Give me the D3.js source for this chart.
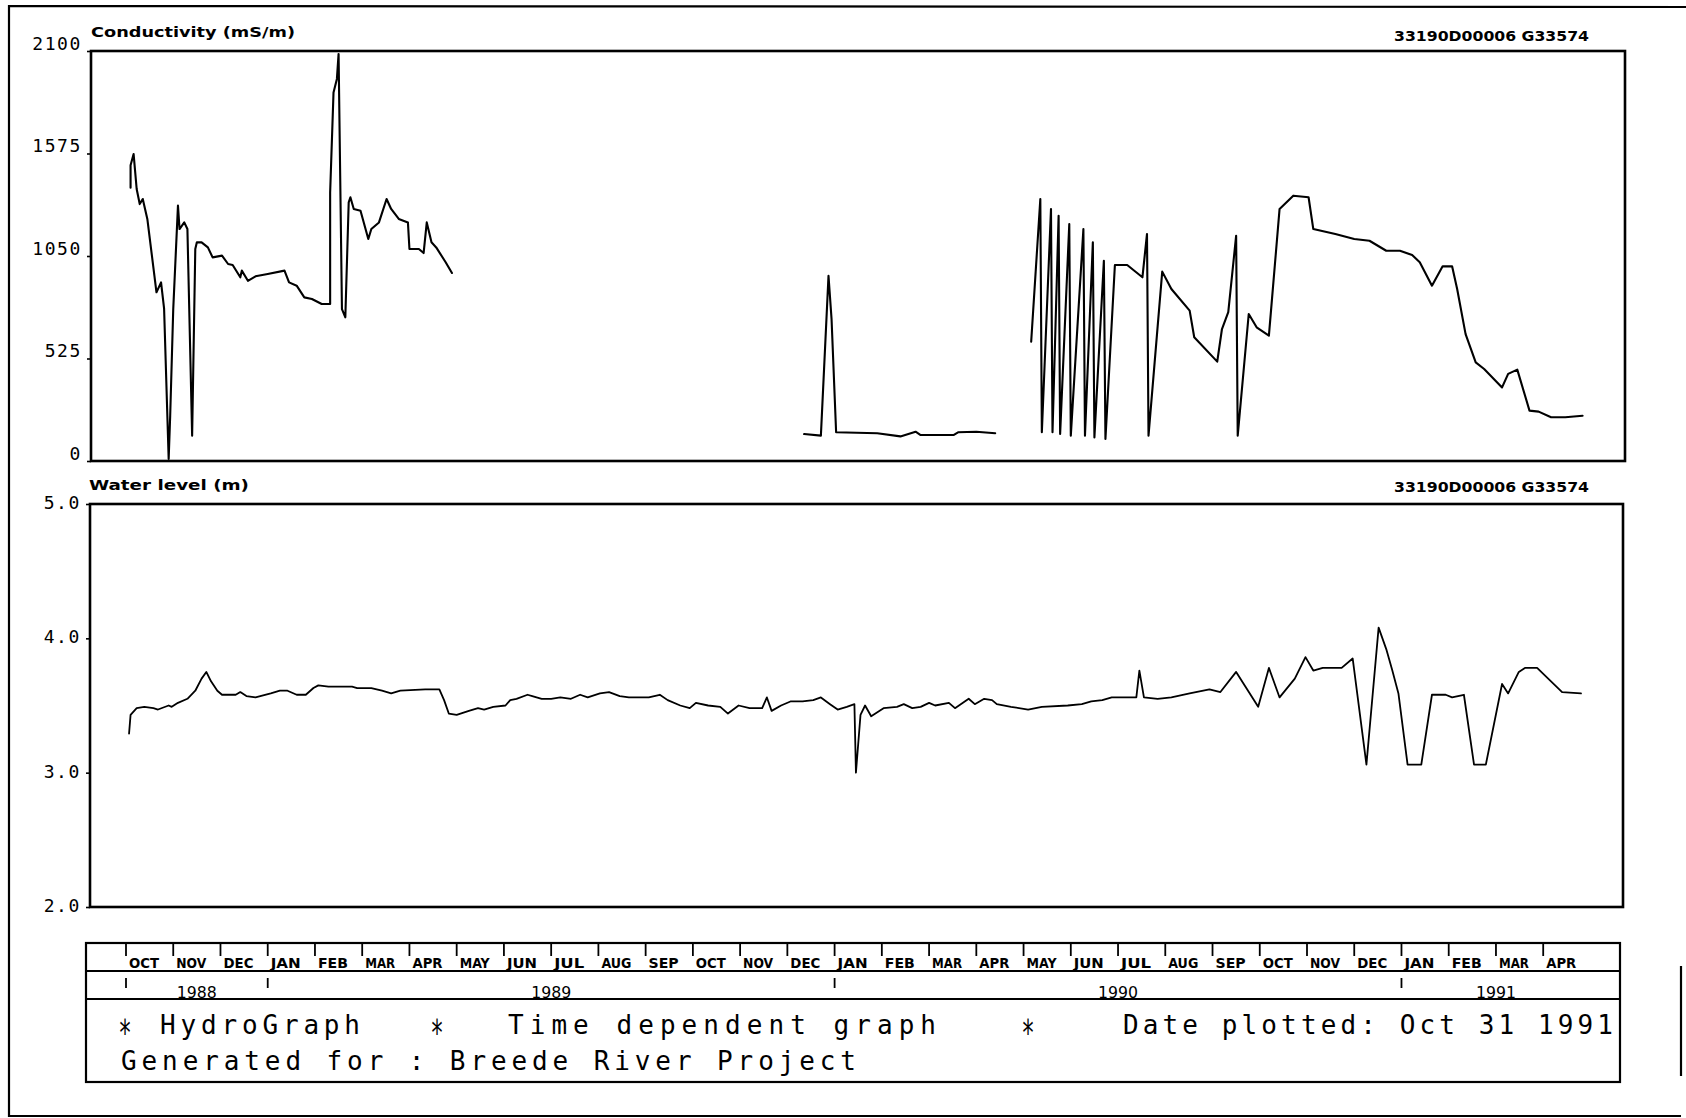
<!DOCTYPE html>
<html>
<head>
<meta charset="utf-8">
<title>HydroGraph</title>
<script src="https://cdn.jsdelivr.net/npm/d3@7/dist/d3.min.js"></script>
<style>
  html, body { margin: 0; padding: 0; background: #ffffff; }
  svg { display: block; }
</style>
</head>
<body>
<svg id="chart" width="1686" height="1118" xmlns="http://www.w3.org/2000/svg"></svg>
<script>
// ------------------------------------------------------------------ data
const stationId = "33190D00006 G33574";
const condTitle = "Conductivity (mS/m)";
const levelTitle = "Water level (m)";
const condTicks = [0, 525, 1050, 1575, 2100];
const levelTicks = [2.0, 3.0, 4.0, 5.0];
const monthLabels = ["OCT","NOV","DEC","JAN","FEB","MAR","APR","MAY","JUN","JUL","AUG","SEP",
                     "OCT","NOV","DEC","JAN","FEB","MAR","APR","MAY","JUN","JUL","AUG","SEP",
                     "OCT","NOV","DEC","JAN","FEB","MAR","APR"];
const firstMonth = "1988-10-01";
const yearTicks = ["1988-10-01", "1989-01-01", "1990-01-01", "1991-01-01"];
const yearLabels = ["1988", "1989", "1990", "1991"];
const yearLabelDates = ["1988-11-16", "1989-07-01", "1990-07-01", "1991-03-01"];
const footerItems = ["HydroGraph", "Time dependent graph", "Date plotted: Oct 31 1991"];
const footerLine2 = "Generated for : Breede River Project";

// conductivity (mS/m); null marks a gap in the record
const conductivity = [
  ["1988-10-04",1400],["1988-10-04",1515],["1988-10-06",1572],["1988-10-08",1393],["1988-10-10",1316],
  ["1988-10-12",1342],["1988-10-15",1240],["1988-10-18",1052],["1988-10-21",864],["1988-10-24",915],
  ["1988-10-26",780],["1988-10-29",10],["1988-10-30",232],["1988-11-01",778],["1988-11-04",1308],
  ["1988-11-05",1188],["1988-11-08",1222],["1988-11-10",1188],["1988-11-13",130],["1988-11-15",1086],
  ["1988-11-16",1120],["1988-11-19",1120],["1988-11-23",1094],["1988-11-26",1043],["1988-12-02",1052],
  ["1988-12-06",1009],["1988-12-09",1004],["1988-12-14",941],["1988-12-15",975],["1988-12-19",923],
  ["1988-12-24",946],["1989-01-01",958],["1989-01-12",975],["1989-01-15",915],["1989-01-20",898],
  ["1989-01-25",838],["1989-01-30",830],["1989-02-05",804],["1989-02-10",804],["1989-02-10",1376],
  ["1989-02-12",1888],["1989-02-14",1957],["1989-02-15",2085],["1989-02-17",778],["1989-02-19",736],
  ["1989-02-21",1325],["1989-02-22",1351],["1989-02-24",1291],["1989-02-28",1282],["1989-03-05",1137],
  ["1989-03-07",1188],["1989-03-12",1222],["1989-03-17",1342],["1989-03-20",1291],["1989-03-25",1240],
  ["1989-03-31",1222],["1989-04-01",1086],["1989-04-07",1086],["1989-04-10",1065],["1989-04-12",1222],
  ["1989-04-15",1120],["1989-04-18",1094],["1989-04-24",1018],["1989-04-28",963],
  ["1989-08-01",null],
  ["1989-12-12",138],["1989-12-23",130],["1989-12-28",949],["1989-12-30",727],["1990-01-02",147],
  ["1990-01-29",142],["1990-02-12",126],["1990-02-21",150],["1990-02-24",133],["1990-03-17",133],
  ["1990-03-20",147],["1990-04-01",150],["1990-04-13",142],
  ["1990-04-25",null],
  ["1990-05-06",611],["1990-05-12",1342],["1990-05-13",147],["1990-05-19",1291],["1990-05-20",147],
  ["1990-05-24",1256],["1990-05-25",138],["1990-05-31",1214],["1990-06-01",130],["1990-06-09",1188],
  ["1990-06-10",130],["1990-06-15",1120],["1990-06-16",121],["1990-06-22",1026],["1990-06-23",113],
  ["1990-06-29",1004],["1990-07-07",1004],["1990-07-17",941],["1990-07-20",1163],["1990-07-21",130],
  ["1990-07-30",970],["1990-08-05",881],["1990-08-17",770],["1990-08-20",634],["1990-09-04",509],
  ["1990-09-07",676],["1990-09-11",762],["1990-09-16",1154],["1990-09-17",130],["1990-09-24",753],
  ["1990-09-29",685],["1990-10-07",642],["1990-10-14",1291],["1990-10-23",1359],["1990-11-02",1351],
  ["1990-11-05",1188],["1990-11-19",1163],["1990-12-01",1137],["1990-12-11",1128],["1990-12-22",1077],
  ["1990-12-31",1077],["1991-01-08",1055],["1991-01-13",1018],["1991-01-21",898],["1991-01-28",997],
  ["1991-02-03",997],["1991-02-06",881],["1991-02-11",650],["1991-02-17",505],["1991-02-22",471],
  ["1991-03-05",377],["1991-03-09",446],["1991-03-15",468],["1991-03-23",258],["1991-03-29",253],
  ["1991-04-06",224],["1991-04-15",224],["1991-04-26",232]
];

// water level (m)
const waterLevel = [
  ["1988-10-03",3.29],["1988-10-04",3.43],["1988-10-08",3.48],["1988-10-13",3.49],["1988-10-19",3.48],
  ["1988-10-22",3.47],["1988-10-29",3.50],["1988-10-31",3.49],["1988-11-04",3.52],["1988-11-10",3.55],
  ["1988-11-15",3.61],["1988-11-19",3.70],["1988-11-22",3.75],["1988-11-25",3.68],["1988-11-29",3.61],
  ["1988-12-02",3.58],["1988-12-11",3.58],["1988-12-14",3.60],["1988-12-18",3.57],["1988-12-24",3.56],
  ["1989-01-03",3.59],["1989-01-09",3.61],["1989-01-14",3.61],["1989-01-20",3.58],["1989-01-26",3.58],
  ["1989-01-31",3.63],["1989-02-03",3.65],["1989-02-09",3.64],["1989-02-15",3.64],["1989-02-23",3.64],
  ["1989-02-26",3.63],["1989-03-07",3.63],["1989-03-14",3.61],["1989-03-20",3.59],["1989-03-26",3.61],
  ["1989-04-11",3.62],["1989-04-20",3.62],["1989-04-23",3.54],["1989-04-26",3.44],["1989-05-01",3.43],
  ["1989-05-09",3.46],["1989-05-15",3.48],["1989-05-19",3.47],["1989-05-25",3.49],["1989-06-02",3.50],
  ["1989-06-05",3.54],["1989-06-09",3.55],["1989-06-16",3.58],["1989-06-19",3.57],["1989-06-25",3.55],
  ["1989-07-01",3.55],["1989-07-07",3.56],["1989-07-14",3.55],["1989-07-20",3.58],["1989-07-25",3.56],
  ["1989-08-02",3.59],["1989-08-08",3.60],["1989-08-15",3.57],["1989-08-21",3.56],["1989-08-27",3.56],
  ["1989-09-03",3.56],["1989-09-10",3.58],["1989-09-15",3.54],["1989-09-23",3.50],["1989-09-29",3.48],
  ["1989-10-03",3.52],["1989-10-11",3.50],["1989-10-19",3.49],["1989-10-24",3.44],["1989-10-31",3.50],
  ["1989-11-07",3.48],["1989-11-15",3.48],["1989-11-18",3.56],["1989-11-21",3.46],["1989-11-27",3.50],
  ["1989-12-03",3.53],["1989-12-11",3.53],["1989-12-18",3.54],["1989-12-23",3.56],["1989-12-29",3.51],
  ["1990-01-03",3.47],["1990-01-09",3.49],["1990-01-14",3.51],["1990-01-15",3.00],["1990-01-18",3.43],
  ["1990-01-21",3.50],["1990-01-25",3.42],["1990-02-02",3.48],["1990-02-10",3.49],["1990-02-14",3.51],
  ["1990-02-19",3.48],["1990-02-24",3.49],["1990-03-01",3.52],["1990-03-05",3.50],["1990-03-14",3.52],
  ["1990-03-18",3.48],["1990-03-27",3.55],["1990-03-31",3.51],["1990-04-06",3.55],["1990-04-11",3.54],
  ["1990-04-14",3.51],["1990-04-23",3.49],["1990-05-04",3.47],["1990-05-13",3.49],["1990-05-30",3.50],
  ["1990-06-08",3.51],["1990-06-14",3.53],["1990-06-21",3.54],["1990-06-27",3.56],["1990-07-04",3.56],
  ["1990-07-13",3.56],["1990-07-15",3.76],["1990-07-18",3.56],["1990-07-27",3.55],["1990-08-05",3.56],
  ["1990-08-17",3.59],["1990-08-30",3.62],["1990-09-06",3.60],["1990-09-16",3.75],["1990-09-30",3.49],
  ["1990-10-07",3.78],["1990-10-14",3.56],["1990-10-24",3.70],["1990-10-31",3.86],["1990-11-05",3.76],
  ["1990-11-11",3.78],["1990-11-23",3.78],["1990-11-30",3.85],["1990-12-09",3.06],["1990-12-17",4.08],
  ["1990-12-22",3.92],["1990-12-26",3.76],["1990-12-30",3.59],["1991-01-05",3.06],["1991-01-14",3.06],
  ["1991-01-21",3.58],["1991-01-30",3.58],["1991-02-03",3.56],["1991-02-10",3.58],["1991-02-16",3.06],
  ["1991-02-23",3.06],["1991-03-05",3.66],["1991-03-09",3.59],["1991-03-16",3.75],["1991-03-20",3.78],
  ["1991-03-28",3.78],["1991-04-13",3.60],["1991-04-25",3.59]
];

// ------------------------------------------------------------------ layout
const W = 1686, H = 1118;
const P1 = {l: 91, r: 1625, t: 51, b: 461};     // conductivity panel
const P2 = {l: 90, r: 1623, t: 504, b: 907};    // water level panel
const F  = {l: 86, r: 1620, t: 943, b: 1082, row1: 971, row2: 999};
const X0 = 126, MW = 47.24;                    // Oct-1988 start, pixels per month

const parse = d3.timeParse("%Y-%m-%d");
const svg = d3.select("#chart");

// equal-width months (polylinear time scale over month boundaries)
const monthBounds = d3.timeMonth.range(new Date(1988, 8, 1), new Date(1991, 6, 2));
const x = d3.scaleTime()
  .domain(monthBounds)
  .range(monthBounds.map((d, i) => X0 + (i - 1) * MW));

const yC = d3.scaleLinear().domain([0, 2100]).range([P1.b, P1.t]);
const yL = d3.scaleLinear().domain([2, 5]).range([P2.b, P2.t]);

const ink = "#000";

// outer frame (top, left, bottom and short right piece as in the scan)
svg.append("path")
  .attr("d", `M${W},7 L9,6 L9,1116 L1681,1116 M1681,966 L1681,1076`)
  .attr("fill", "none").attr("stroke", ink).attr("stroke-width", 2.2);

// panel boxes
[P1, P2].forEach(p => {
  svg.append("rect")
    .attr("x", p.l).attr("y", p.t)
    .attr("width", p.r - p.l).attr("height", p.b - p.t)
    .attr("fill", "none").attr("stroke", ink).attr("stroke-width", 2.6);
});

// y axes
function styleAxis(g, dy) {
  g.select(".domain").remove();
  g.selectAll(".tick line").attr("stroke", ink).attr("stroke-width", 1.6);
  g.selectAll(".tick text")
    .attr("dy", dy)
    .attr("fill", ink)
    .style("font-family", "'DejaVu Sans Mono', monospace")
    .style("font-size", "18px")
    .style("letter-spacing", "1.6px");
}
svg.append("g")
  .attr("transform", `translate(${P1.l},0)`)
  .call(d3.axisLeft(yC).tickValues(condTicks).tickSize(4).tickPadding(5).tickFormat(d3.format("d")))
  .call(g => styleAxis(g, "-0.1em"));
svg.append("g")
  .attr("transform", `translate(${P2.l},0)`)
  .call(d3.axisLeft(yL).tickValues(levelTicks).tickSize(4).tickPadding(5).tickFormat(d3.format(".1f")))
  .call(g => styleAxis(g, "0.25em"));

// panel titles and station ids
const titleFont = "'DejaVu Sans Condensed', 'DejaVu Sans', sans-serif";
function label(txt, xx, yy, len) {
  svg.append("text")
    .attr("x", xx).attr("y", yy)
    .attr("textLength", len).attr("lengthAdjust", "spacingAndGlyphs")
    .style("font-family", titleFont).style("font-size", "14px").style("font-weight", "bold")
    .attr("fill", ink).text(txt);
}
label(condTitle, 91, 37, 204);
label(stationId, 1394, 41, 195);
label(levelTitle, 89, 490, 160);
label(stationId, 1394, 492, 195);

// data lines
const lineC = d3.line()
  .defined(d => d[1] !== null)
  .x(d => x(parse(d[0])))
  .y(d => yC(d[1]));
svg.append("path")
  .datum(conductivity)
  .attr("d", lineC)
  .attr("fill", "none").attr("stroke", ink)
  .attr("stroke-width", 2.1).attr("stroke-linejoin", "round").attr("stroke-linecap", "round");

const lineL = d3.line()
  .x(d => x(parse(d[0])))
  .y(d => yL(d[1]));
svg.append("path")
  .datum(waterLevel)
  .attr("d", lineL)
  .attr("fill", "none").attr("stroke", ink)
  .attr("stroke-width", 1.8).attr("stroke-linejoin", "round").attr("stroke-linecap", "round");

// ------------------------------------------------------------------ footer box
svg.append("rect")
  .attr("x", F.l).attr("y", F.t).attr("width", F.r - F.l).attr("height", F.b - F.t)
  .attr("fill", "none").attr("stroke", ink).attr("stroke-width", 2.2);
[F.row1, F.row2].forEach(yy => {
  svg.append("line").attr("x1", F.l).attr("x2", F.r).attr("y1", yy).attr("y2", yy)
    .attr("stroke", ink).attr("stroke-width", 2);
});

// month row
const months = d3.timeMonth.range(parse(firstMonth), d3.timeMonth.offset(parse(firstMonth), monthLabels.length));
const mg = svg.append("g");
mg.selectAll("line").data(months).join("line")
  .attr("x1", d => x(d)).attr("x2", d => x(d))
  .attr("y1", F.t).attr("y2", F.t + 13)
  .attr("stroke", ink).attr("stroke-width", 1.8);
mg.selectAll("text").data(months).join("text")
  .attr("x", d => x(d) + 3).attr("y", F.row1 - 3)
  .attr("textLength", 30).attr("lengthAdjust", "spacingAndGlyphs")
  .style("font-family", titleFont).style("font-size", "14px").style("font-weight", "bold")
  .attr("fill", ink)
  .text((d, i) => monthLabels[i]);

// year row
const yg = svg.append("g");
yg.selectAll("line").data(yearTicks).join("line")
  .attr("x1", d => x(parse(d))).attr("x2", d => x(parse(d)))
  .attr("y1", F.row1 + 7).attr("y2", F.row1 + 17)
  .attr("stroke", ink).attr("stroke-width", 1.8);
yg.selectAll("text").data(yearLabels).join("text")
  .attr("x", (d, i) => x(parse(yearLabelDates[i])))
  .attr("y", F.row2 - 1)
  .attr("text-anchor", "middle")
  .attr("textLength", 40).attr("lengthAdjust", "spacingAndGlyphs")
  .style("font-family", titleFont).style("font-size", "16px")
  .attr("fill", ink)
  .text(d => d);

// footer text lines
const monoFont = "'DejaVu Sans Mono', monospace";
const itemX = [160, 508, 1123], itemLen = [200, 428, 490];
const starX = [125, 437, 1028];
footerItems.forEach((t, i) => {
  svg.append("text")
    .attr("x", itemX[i]).attr("y", 1034)
    .attr("textLength", itemLen[i]).attr("lengthAdjust", "spacing")
    .style("font-family", monoFont).style("font-size", "26px")
    .attr("fill", ink).text(t);
});
// asterisks centred on the cap height of the first footer line
starX.forEach(sx => {
  svg.append("text")
    .attr("transform", `translate(${sx},1038) scale(0.62,1)`)
    .attr("text-anchor", "middle")
    .style("font-family", monoFont).style("font-size", "36px")
    .attr("fill", ink).text("\u2217");
});
svg.append("text")
  .attr("x", 121).attr("y", 1070)
  .attr("textLength", 735).attr("lengthAdjust", "spacing")
  .style("font-family", monoFont).style("font-size", "26px")
  .attr("fill", ink).text(footerLine2);
</script>
</body>
</html>
